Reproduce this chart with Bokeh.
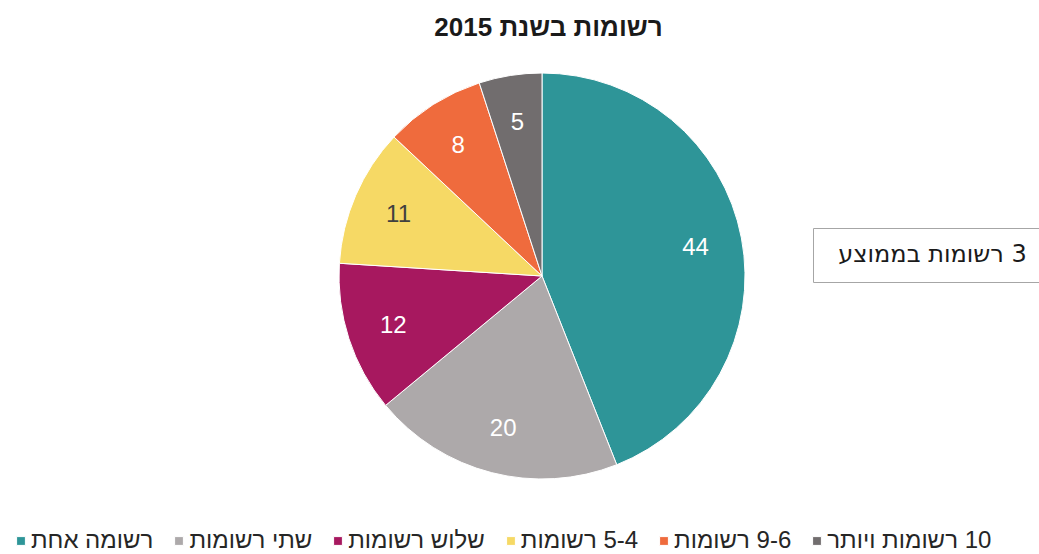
import numpy as np
from bokeh.plotting import figure
from bokeh.models import ColumnDataSource, Range1d, Legend, LegendItem, Label
from bokeh.core.properties import value
from bokeh.embed import file_html
from bokeh.resources import INLINE

# ---- data ----
categories = ["רשומה אחת", "שתי רשומות", "שלוש רשומות", "5-4 רשומות", "9-6 רשומות", "10 רשומות ויותר"]
values = [44, 20, 12, 11, 8, 5]
colors = ["#2E9598", "#ADA9AA", "#A7185F", "#F6D965", "#EF6B3D", "#716D6E"]
label_colors = ["#FFFFFF", "#FFFFFF", "#FFFFFF", "#404040", "#FFFFFF", "#FFFFFF"]
title_text = "רשומות בשנת 2015"
note_text = "3 רשומות בממוצע"


def rtl(s):
    return "\u202b" + s + "\u202c"


W, H = 1039, 554
FONT = "Liberation Sans"

# pie geometry (x right, y up, pixel units)
cx, cy, R = 541.5, 278.5, 203
label_frac = 0.77

vals = np.array(values, dtype=float)
total = vals.sum()
cum = np.cumsum(vals)
prev = cum - vals
end_ang = np.pi / 2 - 2 * np.pi * prev / total
start_ang = np.pi / 2 - 2 * np.pi * cum / total
mid_ang = (start_ang + end_ang) / 2

src = ColumnDataSource(dict(
    start=start_ang, end=end_ang, color=colors, cat=[rtl(c) for c in categories],
    lx=cx + label_frac * R * np.cos(mid_ang), ly=cy + label_frac * R * np.sin(mid_ang),
    txt=[str(v) for v in values], tcol=label_colors,
))

p = figure(width=W, height=H, x_range=Range1d(0, W), y_range=Range1d(0, H),
           x_axis_type=None, y_axis_type=None, toolbar_location=None,
           output_backend="svg", min_border=0, outline_line_color=None,
           background_fill_color="white", border_fill_color="white")
p.grid.visible = False

wr = p.wedge(x=cx, y=cy, radius=R, start_angle="start", end_angle="end",
             direction="anticlock", fill_color="color", line_color="white",
             line_width=1, source=src)

p.text(x="lx", y="ly", text="txt", text_color="tcol", text_align="center",
       text_baseline="middle", text_font=value(FONT), text_font_size="24px", source=src)

# title
p.add_layout(Label(x=548, y=528, text=rtl(title_text), text_align="center",
                   text_baseline="middle", text_font=FONT, text_font_style="bold",
                   text_font_size="26px", text_color="#1A1A1A"))

# note box
p.quad(left=[813], right=[1050], bottom=[272], top=[326], fill_color="white",
       line_color="#A6A6A6", line_width=1)
p.add_layout(Label(x=932, y=301, text=rtl(note_text), text_align="center",
                   text_baseline="middle", text_font="DejaVu Sans", text_font_size="24px",
                   text_color="#1A1A1A"))

# legend
items = [LegendItem(label=rtl(c), renderers=[wr], index=i) for i, c in enumerate(categories)]
legend = Legend(items=items, orientation="horizontal", location=(15, 0),
                label_text_font=FONT, label_text_font_size="24px",
                label_text_color="#262626", glyph_width=11, glyph_height=11,
                label_standoff=5, spacing=20, padding=0, margin=0,
                border_line_color=None, background_fill_alpha=0, label_height=24)
p.add_layout(legend, "center")

open("out.html", "w").write(file_html(p, INLINE))
